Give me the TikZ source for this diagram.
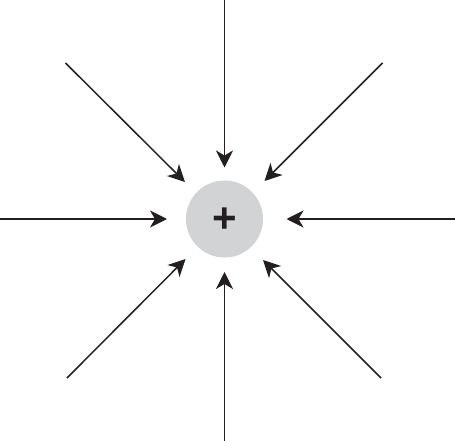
\documentclass[tikz,border=0pt]{standalone}
\usepackage{fontspec}
\setmainfont{Liberation Sans}
\usetikzlibrary{arrows.meta}
\definecolor{ink}{HTML}{231F20}
\definecolor{chargegrey}{HTML}{D1D3D4}
\begin{document}
\begin{tikzpicture}[x=1pt,y=-1pt,
  fieldline/.style={draw=ink,line width=1.5pt,-{Stealth[length=17pt,width=17pt,inset=5pt]}}]
\useasboundingbox (0,0) rectangle (455,441);
\node[circle,fill=chargegrey,minimum size=77pt,inner sep=0pt] (q) at (224.5,219) {};
\node[text=ink,inner sep=0pt,font=\bfseries\fontsize{42}{42}\selectfont] (plus) at (224.5,220) {+};
% start points
\coordinate (sN) at (224.5,0);
\coordinate (sS) at (224.5,441);
\coordinate (sW) at (0,219);
\coordinate (sE) at (455,219);
\coordinate (sNW) at (65.5,63);
\coordinate (sNE) at (382.5,63);
\coordinate (sSW) at (67,378);
\coordinate (sSE) at (381,378);
% tips
\coordinate (tN) at (224.5,167.5);
\coordinate (tS) at (224.5,272);
\coordinate (tW) at (167,219);
\coordinate (tE) at (286.5,219);
\coordinate (tNW) at (185,182);
\coordinate (tNE) at (264.5,181);
\coordinate (tSW) at (185.5,259);
\coordinate (tSE) at (263,260);
\foreach \d in {N,S,W,E,NW,NE,SW,SE}{
  \draw[fieldline] (s\d) -- (t\d);
}
\end{tikzpicture}
\end{document}
